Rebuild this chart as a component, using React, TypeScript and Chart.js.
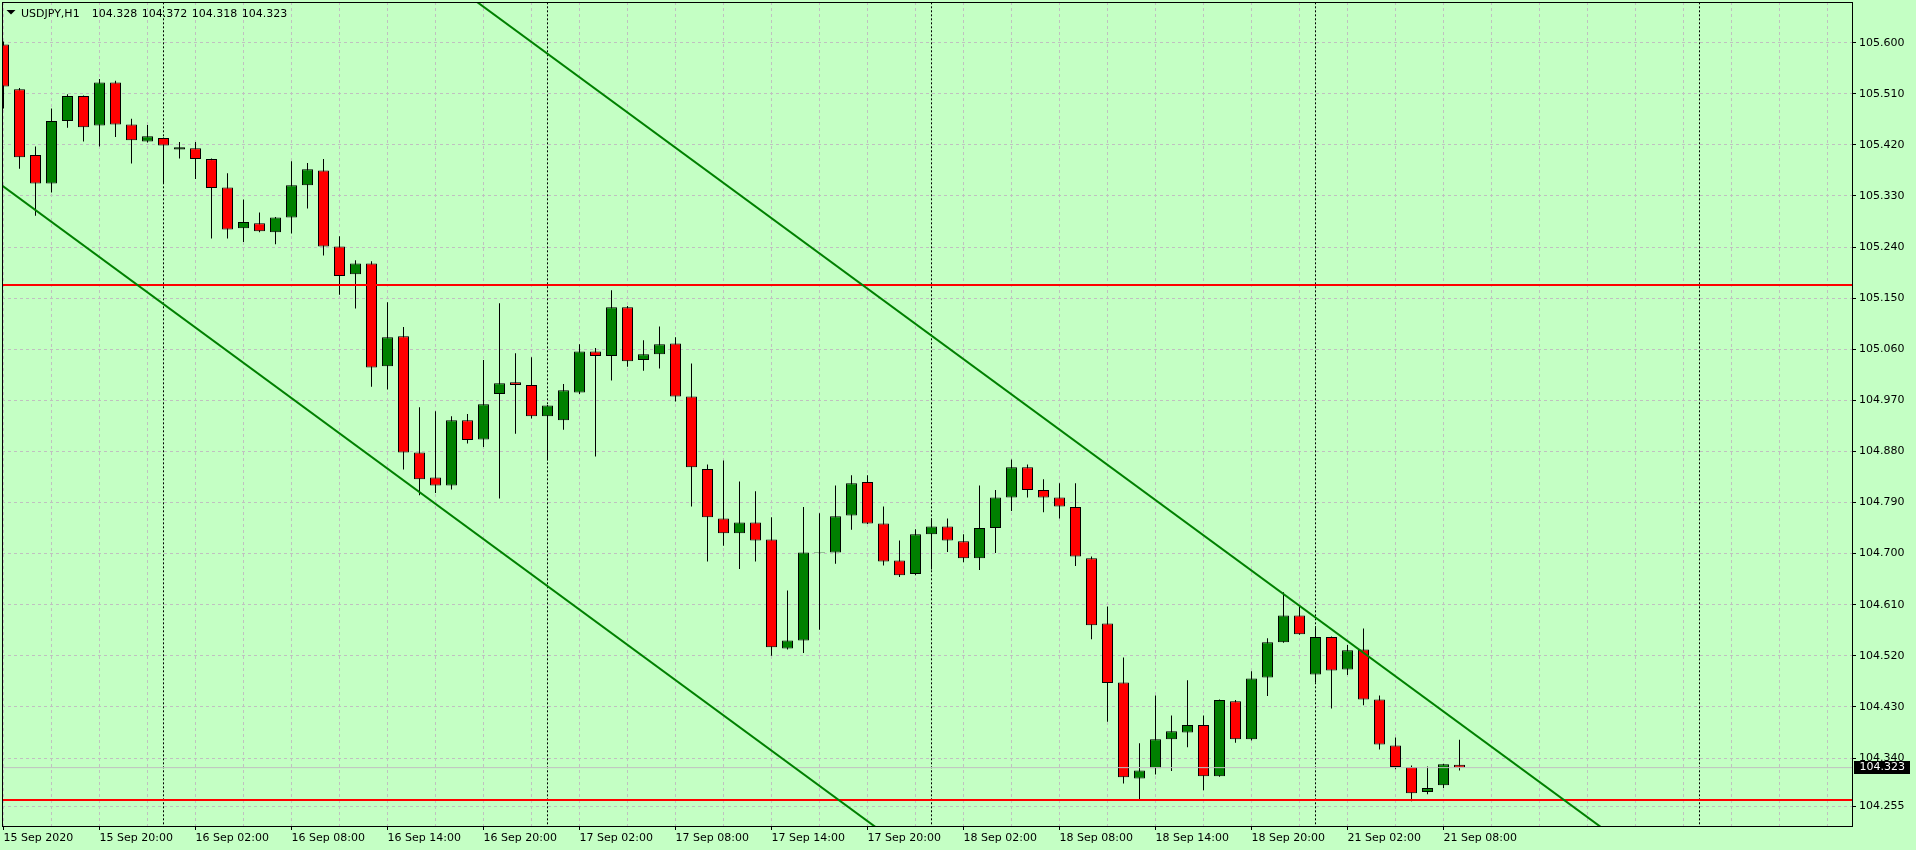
import { useEffect, useRef } from 'react';
import { Chart, registerables } from 'chart.js';

Chart.register(...registerables);

// ---- data (USDJPY H1, 15 Sep 14:00 .. 21 Sep 09:00) ----
const opens = [
  105.597, 105.518, 105.402, 105.352, 105.462, 105.506, 105.454, 105.530, 105.456, 105.426,
  105.432, 105.412, 105.414, 105.395, 105.345, 105.273, 105.282, 105.266, 105.292, 105.349,
  105.375, 105.241, 105.192, 105.211, 105.030, 105.083, 104.878, 104.834, 104.820, 104.935,
  104.901, 104.981, 105.002, 104.997, 104.942, 104.935, 104.984, 105.056, 105.048, 105.134,
  105.041, 105.051, 105.070, 104.977, 104.849, 104.762, 104.736, 104.755, 104.725, 104.533,
  104.547, 104.701, 104.702, 104.767, 104.826, 104.753, 104.688, 104.664, 104.734, 104.748,
  104.722, 104.692, 104.745, 104.799, 104.852, 104.812, 104.799, 104.782, 104.692, 104.577,
  104.473, 104.304, 104.322, 104.373, 104.385, 104.398, 104.308, 104.440, 104.373, 104.482,
  104.544, 104.591, 104.487, 104.553, 104.496, 104.531, 104.443, 104.362, 104.324, 104.280,
  104.292, 104.328,
];
const highs = [
  105.602, 105.520, 105.417, 105.484, 105.509, 105.507, 105.536, 105.533, 105.466, 105.455,
  105.433, 105.425, 105.425, 105.396, 105.370, 105.324, 105.301, 105.293, 105.391, 105.388,
  105.395, 105.259, 105.217, 105.215, 105.143, 105.099, 104.958, 104.951, 104.942, 104.946,
  105.041, 105.141, 105.053, 105.046, 104.962, 104.999, 105.069, 105.062, 105.164, 105.136,
  105.076, 105.100, 105.081, 105.035, 104.857, 104.864, 104.827, 104.810, 104.764, 104.635,
  104.782, 104.771, 104.820, 104.838, 104.838, 104.783, 104.723, 104.743, 104.762, 104.762,
  104.734, 104.820, 104.812, 104.866, 104.857, 104.831, 104.824, 104.824, 104.695, 104.607,
  104.517, 104.366, 104.450, 104.415, 104.477, 104.415, 104.443, 104.442, 104.493, 104.551,
  104.632, 104.607, 104.572, 104.554, 104.539, 104.568, 104.450, 104.376, 104.327, 104.325,
  104.330, 104.372,
];
const lows = [
  105.484, 105.378, 105.295, 105.336, 105.450, 105.426, 105.417, 105.434, 105.387, 105.424,
  105.351, 105.396, 105.360, 105.255, 105.255, 105.249, 105.266, 105.245, 105.264, 105.308,
  105.225, 105.156, 105.132, 104.994, 104.989, 104.848, 104.803, 104.807, 104.813, 104.894,
  104.888, 104.797, 104.911, 104.938, 104.864, 104.918, 104.981, 104.871, 105.005, 105.029,
  105.022, 105.026, 104.968, 104.783, 104.686, 104.714, 104.673, 104.686, 104.520, 104.531,
  104.525, 104.566, 104.682, 104.742, 104.752, 104.679, 104.659, 104.662, 104.672, 104.703,
  104.685, 104.671, 104.701, 104.775, 104.799, 104.773, 104.762, 104.678, 104.549, 104.404,
  104.295, 104.267, 104.311, 104.317, 104.359, 104.283, 104.307, 104.367, 104.371, 104.449,
  104.543, 104.557, 104.473, 104.427, 104.486, 104.433, 104.355, 104.320, 104.264, 104.276,
  104.287, 104.318,
];
const closes = [
  105.523, 105.398, 105.352, 105.462, 105.506, 105.451, 105.530, 105.456, 105.428, 105.435,
  105.419, 105.416, 105.395, 105.344, 105.271, 105.284, 105.268, 105.292, 105.349, 105.377,
  105.241, 105.189, 105.211, 105.028, 105.081, 104.878, 104.831, 104.820, 104.935, 104.900,
  104.963, 105.000, 104.997, 104.942, 104.961, 104.988, 105.056, 105.048, 105.134, 105.039,
  105.051, 105.069, 104.977, 104.852, 104.764, 104.736, 104.755, 104.723, 104.535, 104.547,
  104.702, 104.702, 104.766, 104.824, 104.753, 104.686, 104.662, 104.734, 104.748, 104.723,
  104.692, 104.745, 104.799, 104.852, 104.812, 104.799, 104.783, 104.695, 104.574, 104.472,
  104.306, 104.318, 104.373, 104.387, 104.398, 104.308, 104.442, 104.373, 104.480, 104.544,
  104.591, 104.558, 104.553, 104.494, 104.530, 104.443, 104.364, 104.324, 104.278, 104.287,
  104.329, 104.323,
];

// bottom axis labels, one every 6 bars starting at bar 0
const xTickLabels = [
  '15 Sep 2020', '15 Sep 20:00', '16 Sep 02:00', '16 Sep 08:00', '16 Sep 14:00', '16 Sep 20:00',
  '17 Sep 02:00', '17 Sep 08:00', '17 Sep 14:00', '17 Sep 20:00', '18 Sep 02:00', '18 Sep 08:00',
  '18 Sep 14:00', '18 Sep 20:00', '21 Sep 02:00', '21 Sep 08:00',
];
const yTickValues = [
  105.6, 105.51, 105.42, 105.33, 105.24, 105.15, 105.06, 104.97, 104.88, 104.79,
  104.7, 104.61, 104.52, 104.43, 104.34, 104.255,
];
// day separators (bar index of 00:00)
const separatorBars = [10, 34, 58, 82, 106];
// horizontal levels
const levelPrices = [105.1732, 104.266];
// trend channel lines (bar index, price)
const upperTrend = [{ x: 20, y: 105.8702 }, { x: 120, y: 103.8012 }];
const lowerTrend = [{ x: -5, y: 105.4502 }, { x: 70, y: 103.8976 }];
const lastPrice = 104.323;
const headerSymbol = 'USDJPY,H1';
const headerValues = ['104.328', '104.372', '104.318', '104.323'];

// ---- view ----
const X_MIN = -0.09375;
const X_MAX = 115.53125;
const Y_MIN = 104.22022;
const Y_MAX = 105.67169;

const BG = '#c4ffc4';
const GRID = '#c0c0c0';
const BULL = '#008000';
const BEAR = '#ff0000';
const FONT = '"DejaVu Sans", Verdana, sans-serif';

const bgPlugin = {
  id: 'bgFill',
  beforeDraw(chart: any) {
    const { ctx, width, height } = chart;
    ctx.save();
    ctx.fillStyle = BG;
    ctx.fillRect(0, 0, width, height);
    ctx.restore();
  },
};

const overlayPlugin = {
  id: 'overlay',
  afterDraw(chart: any) {
    const { ctx, chartArea: a } = chart;
    ctx.save();
    ctx.strokeStyle = '#000';
    ctx.lineWidth = 1;
    ctx.setLineDash([]);
    ctx.strokeRect(a.left + 0.5, a.top + 0.5, a.right - a.left, a.bottom - a.top);

    // last price tag
    const py = chart.scales.y.getPixelForValue(lastPrice);
    ctx.fillStyle = '#000';
    ctx.fillRect(a.right + 2, Math.round(py) - 7, 56, 13);
    ctx.fillStyle = '#fff';
    ctx.font = '11px ' + FONT;
    ctx.textAlign = 'left';
    ctx.textBaseline = 'middle';
    ctx.fillText(lastPrice.toFixed(3), a.right + 7.5, Math.round(py) - 0.5);

    // header
    ctx.fillStyle = '#000';
    ctx.beginPath();
    ctx.moveTo(6.5, 10);
    ctx.lineTo(15.5, 10);
    ctx.lineTo(11, 14.5);
    ctx.closePath();
    ctx.fill();
    ctx.textBaseline = 'alphabetic';
    ctx.fillText(headerSymbol, 21, 17);
    headerValues.forEach((v, k) => ctx.fillText(v, 91.7 + 50 * k, 17));
    ctx.restore();
  },
};

export default function App() {
  const ref = useRef<HTMLCanvasElement | null>(null);

  useEffect(() => {
    if (!ref.current) return;
    const xGrid: number[] = [];
    for (let v = 0; v <= 114; v += 3) xGrid.push(v);

    const wickData = lows.map((l, i) => ({ x: i, y: [l, highs[i]] }));
    const bodyData = opens.map((o, i) => ({ x: i, y: [o, closes[i]] }));
    const bodyColors = opens.map((o, i) => (closes[i] >= o ? BULL : BEAR));

    const datasets: any[] = [];
    separatorBars.forEach((b) => {
      datasets.push({
        type: 'line',
        data: [{ x: b, y: Y_MAX + 1 }, { x: b, y: Y_MIN - 1 }],
        borderColor: '#000',
        borderWidth: 1,
        borderDash: [2, 2],
        pointRadius: 0,
        fill: false,
        clip: 0,
        order: 20,
      });
    });
    datasets.push({
      type: 'bar',
      data: wickData,
      backgroundColor: '#000',
      borderWidth: 0,
      barThickness: 1,
      grouped: false,
      inflateAmount: 0,
      order: 11,
    });
    datasets.push({
      type: 'bar',
      data: bodyData,
      backgroundColor: bodyColors,
      borderColor: '#000',
      borderWidth: 1,
      borderSkipped: false,
      barThickness: 11,
      grouped: false,
      inflateAmount: 0,
      order: 10,
    });
    datasets.push({
      type: 'line',
      data: [{ x: X_MIN - 2, y: lastPrice }, { x: X_MAX + 2, y: lastPrice }],
      borderColor: GRID,
      borderWidth: 1,
      pointRadius: 0,
      fill: false,
      clip: 0,
      order: 3,
    });
    levelPrices.forEach((p) => {
      datasets.push({
        type: 'line',
        data: [{ x: X_MIN - 2, y: p }, { x: X_MAX + 2, y: p }],
        borderColor: '#ff0000',
        borderWidth: 2,
        pointRadius: 0,
        fill: false,
        clip: 0,
        order: 2,
      });
    });
    [upperTrend, lowerTrend].forEach((t) => {
      datasets.push({
        type: 'line',
        data: t,
        borderColor: '#008000',
        borderWidth: 2,
        pointRadius: 0,
        fill: false,
        clip: 0,
        order: 1,
      });
    });

    const chart = new Chart(ref.current, {
      type: 'line',
      data: { datasets },
      options: {
        responsive: false,
        animation: false,
        events: [],
        layout: { padding: { left: 2, top: 2, right: 0, bottom: 0 } },
        plugins: { legend: { display: false }, tooltip: { enabled: false } },
        scales: {
          x: {
            type: 'linear',
            position: 'bottom',
            min: X_MIN,
            max: X_MAX,
            offset: false,
            afterBuildTicks: (s: any) => {
              s.ticks = xGrid.map((v) => ({ value: v }));
            },
            afterFit: (s: any) => {
              s.height = 24;
              s.paddingLeft = 0;
              s.paddingRight = 0;
              s.paddingTop = 0;
              s.paddingBottom = 0;
            },
            grid: {
              offset: false,
              color: GRID,
              lineWidth: 1,
              tickLength: 4,
              tickWidth: 1,
              tickBorderDash: [],
              tickColor: (c: any) => {
                const v = c.tick ? c.tick.value : -1;
                return v % 6 === 0 && v / 6 < xTickLabels.length ? '#000' : 'rgba(0,0,0,0)';
              },
            },
            border: { display: false, dash: [3, 3] },
            ticks: {
              autoSkip: false,
              maxRotation: 0,
              minRotation: 0,
              align: 'start',
              padding: 2,
              color: '#000',
              font: { family: FONT, size: 11 },
              callback: (v: any) => {
                const n = Number(v);
                if (n % 6 === 0 && n / 6 < xTickLabels.length) return xTickLabels[n / 6];
                return '';
              },
            },
          },
          y: {
            type: 'linear',
            position: 'right',
            min: Y_MIN,
            max: Y_MAX,
            afterBuildTicks: (s: any) => {
              s.ticks = yTickValues.map((v) => ({ value: v }));
            },
            afterFit: (s: any) => {
              s.width = 64;
              s.paddingLeft = 0;
              s.paddingRight = 0;
              s.paddingTop = 0;
              s.paddingBottom = 0;
            },
            grid: {
              color: GRID,
              lineWidth: 1,
              tickLength: 4,
              tickWidth: 1,
              tickBorderDash: [],
              tickColor: '#000',
            },
            border: { display: false, dash: [3, 3] },
            ticks: {
              padding: 3,
              color: '#000',
              font: { family: FONT, size: 11 },
              callback: (v: any) => Number(v).toFixed(3),
            },
          },
        },
      } as any,
      plugins: [bgPlugin, overlayPlugin],
    });
    return () => chart.destroy();
  }, []);

  return (
    <div style={{ position: 'fixed', left: 0, top: 0, width: 1916, height: 850, background: BG }}>
      <canvas ref={ref} width={1916} height={850} style={{ display: 'block', width: 1916, height: 850 }} />
    </div>
  );
}
